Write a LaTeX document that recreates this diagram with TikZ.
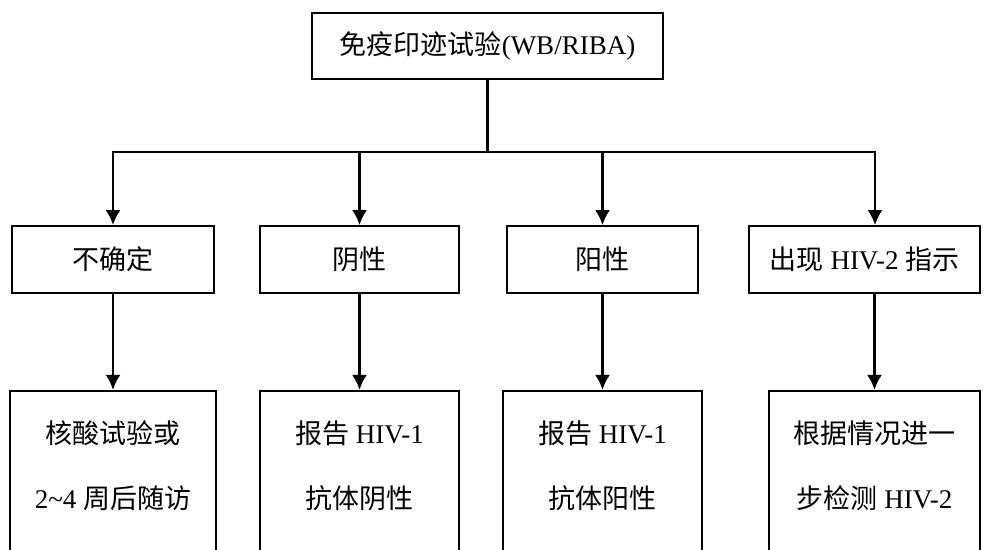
\documentclass[tikz,border=0pt]{standalone}
\usepackage{fontspec}
\setmainfont{Liberation Serif}
\newfontfamily\cjk{Noto Sans CJK SC}
\usetikzlibrary{arrows.meta}
\newcommand{\zh}[1]{{\cjk #1}}
\begin{document}
\begin{tikzpicture}[x=1pt, y=1pt, >={Latex[length=15pt,width=15pt]},
  box/.style={draw, line width=1.6pt, inner sep=0pt, font=\fontsize{27pt}{32pt}\selectfont},
  lowbox/.style={box, anchor=north, text height=53pt, text depth=220pt},
  link/.style={line width=2.8pt, line cap=rect}]
\useasboundingbox (0,0) rectangle (990,549);
\clip (0,0) rectangle (990,549);
% top test
\node[box, minimum width=351pt, minimum height=66pt] (wb) at (487.5,503) {\zh{免疫印迹试验}(WB/RIBA)};
% results
\node[box, minimum width=202pt, minimum height=67pt] (r1) at (113,289.5) {\zh{不确定}};
\node[box, minimum width=199pt, minimum height=67pt] (r2) at (359.5,289.5) {\zh{阴性}};
\node[box, minimum width=191pt, minimum height=67pt] (r3) at (602.5,289.5) {\zh{阳性}};
\node[box, minimum width=231pt, minimum height=67pt] (r4) at (864.5,289.5) {\zh{出现} HIV-2 \zh{指示}};
% follow-up
\node[lowbox, minimum width=206pt] (s1) at (113,159) {\begin{tabular}[t]{c}\zh{核酸试验或}\\[32pt]2\textasciitilde 4 \zh{周后随访}\end{tabular}};
\node[lowbox, minimum width=199pt] (s2) at (359.5,159) {\begin{tabular}[t]{c}\zh{报告} HIV-1\\[32pt]\zh{抗体阴性}\end{tabular}};
\node[lowbox, minimum width=199pt] (s3) at (602.5,159) {\begin{tabular}[t]{c}\zh{报告} HIV-1\\[32pt]\zh{抗体阳性}\end{tabular}};
\node[lowbox, minimum width=211pt] (s4) at (874.5,159) {\begin{tabular}[t]{c}\zh{根据情况进一}\\[32pt]\zh{步检测} HIV-2\end{tabular}};
\coordinate (jm) at (487.5,397);
\coordinate (j1) at (113,397);
\coordinate (j2) at (359.5,397);
\coordinate (j3) at (602.5,397);
\coordinate (j4) at (875,397);
\draw[link] (wb) -- (jm);
\draw[link] (j1) -- (j4);
\draw[link,->] (j1) -- (r1);
\draw[link,->] (j2) -- (r2);
\draw[link,->] (j3) -- (r3);
\draw[link,->] (j4) -- (j4 |- r4.north);
\draw[link,->] (r1) -- (s1);
\draw[link,->] (r2) -- (s2);
\draw[link,->] (r3) -- (s3);
\draw[link,->] (r4.south -| s4.north) -- (s4);
\end{tikzpicture}
\end{document}
